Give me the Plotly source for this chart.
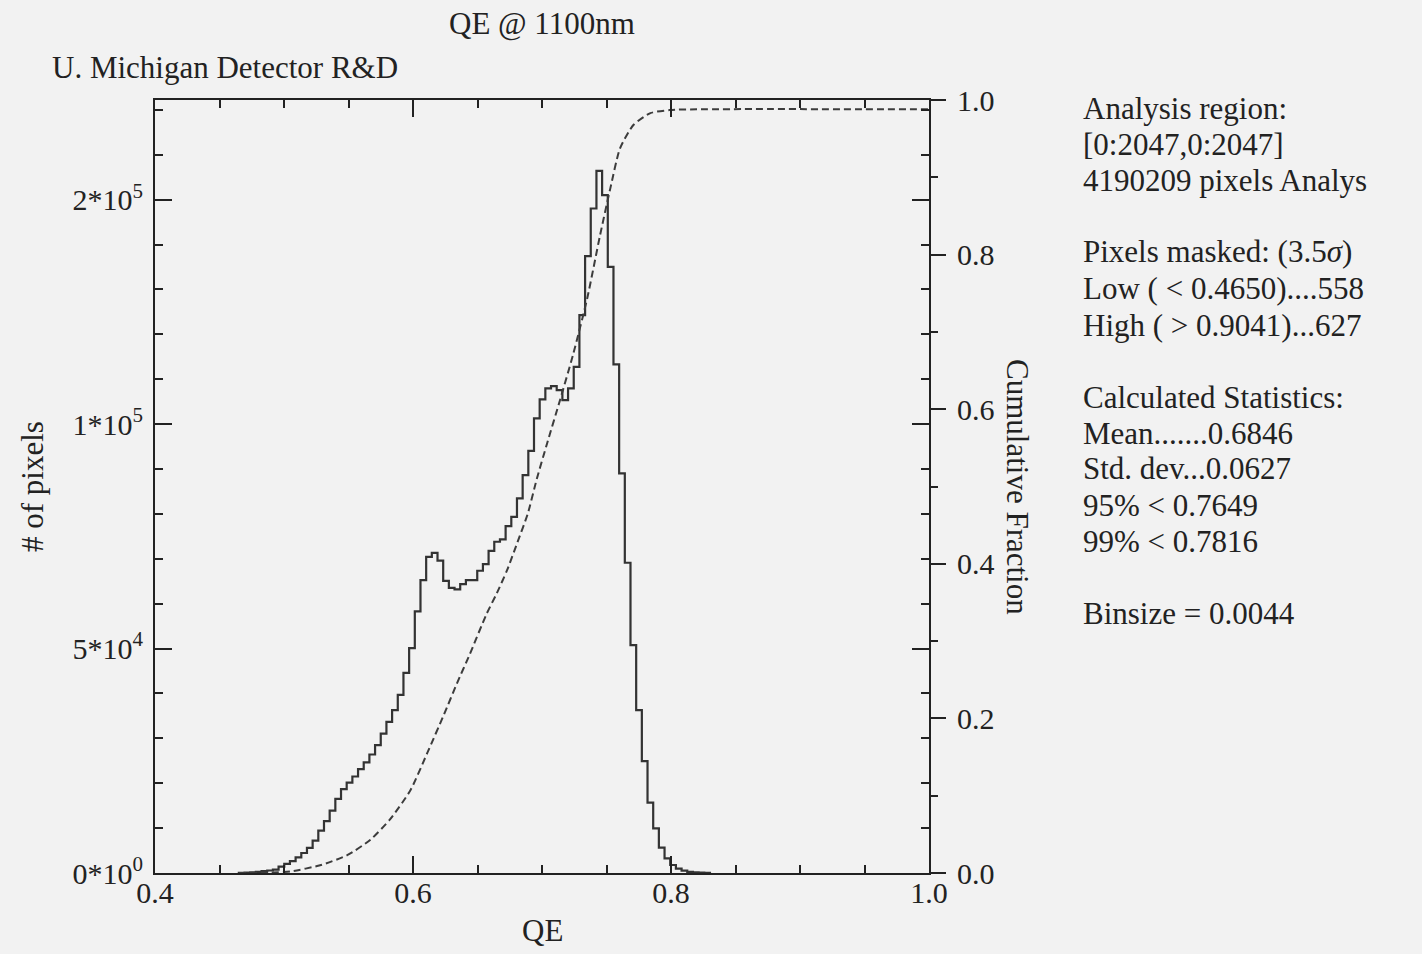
import numpy as np
import plotly.graph_objects as go

# ---------------- data ----------------
BIN_START = 0.465
BINSIZE = 0.0044
counts = [40, 90, 160, 260, 400, 560, 760, 1410, 2050, 2650,
          3500, 4450, 5600, 7200, 9430, 11550, 13880, 16500, 18700, 20120,
          21500, 23150, 24650, 26400, 28500, 31050, 33650, 36300, 39700, 44580,
          50100, 58270, 65250, 70440, 71330, 69600, 65060, 63500, 63200, 64360,
          65250, 65250, 67330, 68810, 71780, 73790, 74310, 77280, 79350, 83450,
          88630, 94050, 101260, 105490, 107940, 108450, 107560, 105340, 107940, 112760,
          124270, 137410, 148030, 156400, 151000, 135030, 113290, 89020, 69110, 50780,
          36300, 24940, 15660, 9950, 5640, 3270, 1780, 960, 510, 260,
          150, 90, 50]

cum_qe = [0.465, 0.490, 0.505, 0.528, 0.549, 0.567, 0.582, 0.598, 0.611, 0.624,
          0.634, 0.644, 0.657, 0.665, 0.673, 0.681, 0.689, 0.696, 0.704, 0.714,
          0.724, 0.735, 0.745, 0.753, 0.7605, 0.771, 0.784, 0.799, 0.820, 1.0]
cum_frac = [0.0, 0.0005, 0.002, 0.010, 0.023, 0.043, 0.069, 0.107, 0.155, 0.205,
            0.245, 0.283, 0.335, 0.362, 0.392, 0.428, 0.465, 0.51, 0.556, 0.612,
            0.670, 0.743, 0.825, 0.886, 0.9375, 0.968, 0.983, 0.987, 0.988, 0.988]

x_ticks = [0.4, 0.6, 0.8, 1.0]
x_ticktext = ["0.4", "0.6", "0.8", "1.0"]
y_ticks = [0, 50000, 100000, 150000]
y_ticktext = ["0*10<sup>0</sup>", "5*10<sup>4</sup>", "1*10<sup>5</sup>", "2*10<sup>5</sup>"]
y2_ticks = [0.0, 0.2, 0.4, 0.6, 0.8, 1.0]
y2_ticktext = ["0.0", "0.2", "0.4", "0.6", "0.8", "1.0"]

title_text = "QE @ 1100nm"
subtitle_text = "U. Michigan Detector R&D"
stats_lines = [
    ("Analysis region:", 108),
    ("[0:2047,0:2047]", 144),
    ("4190209 pixels Analys", 181),
    ("Pixels masked: (3.5<i>σ</i>)", 252),
    ("Low ( &lt; 0.4650)....558", 288),
    ("High ( &gt; 0.9041)...627", 325),
    ("Calculated Statistics:", 397),
    ("Mean.......0.6846", 433),
    ("Std. dev...0.0627", 468),
    ("95% &lt; 0.7649", 505),
    ("99% &lt; 0.7816", 541),
    ("Binsize = 0.0044", 613),
]

# ---------------- layout constants ----------------
W, H = 1422, 954
L, R, T, B = 155, 929, 100, 873
FONT = "Liberation Serif, Times New Roman, serif"
FS = 31
TFS = 30
INK = "#222222"
BG = "#f2f2f2"

def px(xp):
    return (xp - L) / (R - L)

def py(yp):
    return (B - yp) / (B - T)

edges = BIN_START + BINSIZE * np.arange(len(counts) + 1)
hx = np.concatenate([[edges[0]], edges])
hy = [0] + list(counts) + [0]

fig = go.Figure()
fig.add_trace(go.Scatter(x=hx, y=hy, mode="lines", line=dict(shape="hv", color="#333333", width=2.2),
                         showlegend=False, hoverinfo="skip"))
fig.add_trace(go.Scatter(x=cum_qe, y=cum_frac, mode="lines", yaxis="y2",
                         line=dict(shape="spline", smoothing=0.6, color="#3c3c3c", width=2, dash="7px,4px"),
                         showlegend=False, hoverinfo="skip"))

annotations = [
    dict(text=title_text, x=0.5, y=py(23), xanchor="center", yanchor="middle", font=dict(size=FS)),
    dict(text=subtitle_text, x=px(50), y=py(67), xanchor="left", yanchor="middle", font=dict(size=FS)),
    dict(text="QE", x=0.5, y=py(930), xanchor="center", yanchor="middle", font=dict(size=FS)),
    dict(text="# of pixels", x=px(32), y=py(487), xanchor="center", yanchor="middle", textangle=-90,
         font=dict(size=FS)),
    dict(text="Cumulative Fraction", x=px(1018), y=py(487), xanchor="center", yanchor="middle", textangle=90,
         font=dict(size=FS)),
]
for txt, yc in stats_lines:
    annotations.append(dict(text=txt, x=px(1081), y=py(yc), xanchor="left", yanchor="middle",
                            font=dict(size=FS)))
for a in annotations:
    a.update(xref="paper", yref="paper", showarrow=False)
    a["font"].update(family=FONT, color=INK)

fig.update_layout(
    width=W, height=H,
    margin=dict(l=L, r=W - R, t=T, b=H - B, pad=0),
    paper_bgcolor=BG, plot_bgcolor=BG,
    font=dict(family=FONT, size=TFS, color=INK),
    showlegend=False,
    annotations=annotations,
    xaxis=dict(range=[0.4, 1.0], tickvals=x_ticks, ticktext=x_ticktext, ticks="inside", ticklen=17,
               tickwidth=1.5, tickcolor=INK, showline=True, linecolor=INK, linewidth=2, mirror="ticks",
               showgrid=False, zeroline=False, ticklabelstandoff=-8,
               minor=dict(dtick=0.05, tick0=0.4, ticks="inside", ticklen=8, tickwidth=1.5, tickcolor=INK,
                          showgrid=False)),
    yaxis=dict(range=[0, 172200], tickvals=y_ticks, ticktext=y_ticktext, ticks="inside", ticklen=17,
               tickwidth=1.5, tickcolor=INK, showline=True, linecolor=INK, linewidth=2, mirror="ticks",
               showgrid=False, zeroline=False, ticklabelstandoff=4,
               minor=dict(dtick=10000, tick0=0, ticks="inside", ticklen=8, tickwidth=1.5, tickcolor=INK,
                          showgrid=False)),
    yaxis2=dict(range=[0, 1], overlaying="y", side="right", tickvals=y2_ticks, ticktext=y2_ticktext,
                ticks="outside", ticklen=16, tickwidth=1.5, tickcolor=INK, showline=False,
                showgrid=False, zeroline=False, ticklabelstandoff=5,
                minor=dict(dtick=0.1, tick0=0, ticks="outside", ticklen=8, tickwidth=1.5, tickcolor=INK,
                           showgrid=False)),
)

fig.write_html("out.html")
